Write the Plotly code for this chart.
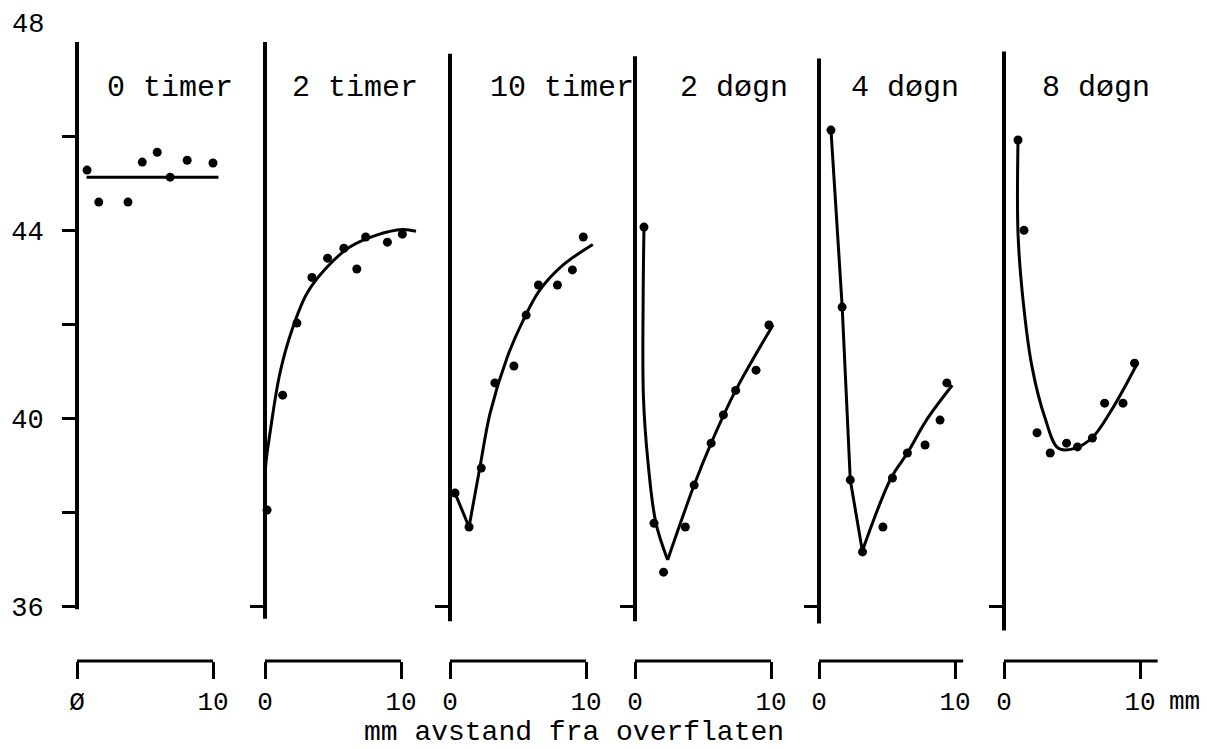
import plotly.graph_objects as go

# ---------------- data ----------------
panel_titles = ["0 timer", "2 timer", "10 timer", "2 døgn", "4 døgn", "8 døgn"]

# measured points: x = mm from surface, y = value
p1_x = [0.74, 1.6, 3.75, 4.8, 5.9, 6.85, 8.1, 10.0]
p1_y = [45.28, 44.6, 44.6, 45.45, 45.66, 45.13, 45.49, 45.43]
p2_x = [0.15, 1.3, 2.35, 3.45, 4.6, 5.8, 6.75, 7.4, 9.0, 10.1]
p2_y = [38.06, 40.5, 42.03, 43.0, 43.41, 43.62, 43.18, 43.86, 43.75, 43.92]
p3_x = [0.37, 1.4, 2.3, 3.3, 4.7, 5.6, 6.5, 7.9, 9.0, 9.8]
p3_y = [38.42, 37.7, 38.95, 40.76, 41.12, 42.2, 42.84, 42.84, 43.16, 43.86]
p4_x = [0.66, 1.4, 2.1, 3.7, 4.35, 5.6, 6.5, 7.4, 8.9, 9.85]
p4_y = [44.07, 37.78, 36.74, 37.7, 38.59, 39.48, 40.08, 40.6, 41.03, 41.99]
p5_x = [0.88, 1.7, 2.3, 3.2, 4.7, 5.4, 6.5, 7.8, 8.9, 9.4]
p5_y = [46.13, 42.37, 38.7, 37.17, 37.7, 38.74, 39.27, 39.44, 39.97, 40.76]
p6_x = [1.03, 1.47, 2.43, 3.4, 4.6, 5.4, 6.5, 7.4, 8.75, 9.6]
p6_y = [45.92, 44.0, 39.7, 39.27, 39.48, 39.4, 39.59, 40.33, 40.33, 41.18]

# hand-drawn fitted curves
c1_x = [0.7, 10.4]
c1_y = [45.13, 45.13]
c2_x = [0.0, 0.05, 0.37, 1.1, 2.0, 3.1, 4.5, 6.2, 8.2, 10.1, 11.1]
c2_y = [38.3, 39.0, 39.7, 40.97, 41.9, 42.67, 43.2, 43.64, 43.9, 44.02, 43.98]
c3a_x = [0.37, 1.4]
c3a_y = [38.42, 37.7]
c3b_x = [1.4, 2.2, 2.95, 4.2, 5.4, 6.6, 8.3, 10.5]
c3b_y = [37.7, 38.97, 40.12, 41.3, 42.1, 42.73, 43.26, 43.7]
c4a_x = [0.66, 0.6, 0.62, 0.96, 1.54, 2.4]
c4a_y = [44.07, 42.58, 40.46, 39.06, 37.78, 37.0]
c4b_x = [2.4, 4.35, 5.6, 7.4, 10.15]
c4b_y = [37.0, 38.59, 39.48, 40.6, 41.99]
c5a_x = [0.88, 1.7, 2.3, 3.2]
c5a_y = [46.13, 42.4, 38.7, 37.17]
c5b_x = [3.2, 5.3, 6.5, 7.9, 9.8]
c5b_y = [37.2, 38.74, 39.27, 39.97, 40.71]
c6_x = [1.03, 1.03, 1.4, 2.06, 3.0, 4.0, 5.2, 6.5, 7.9, 9.85]
c6_y = [45.92, 43.94, 42.52, 41.1, 40.03, 39.37, 39.37, 39.6, 40.18, 41.2]

points = [(p1_x, p1_y), (p2_x, p2_y), (p3_x, p3_y), (p4_x, p4_y), (p5_x, p5_y), (p6_x, p6_y)]
curves = [
    [(c1_x, c1_y, "linear")],
    [(c2_x, c2_y, "spline")],
    [(c3a_x, c3a_y, "linear"), (c3b_x, c3b_y, "spline")],
    [(c4a_x, c4a_y, "spline"), (c4b_x, c4b_y, "spline")],
    [(c5a_x, c5a_y, "linear"), (c5b_x, c5b_y, "spline")],
    [(c6_x, c6_y, "spline")],
]

y_tickvals_first = [36, 38, 40, 42, 44, 46]
y_ticktext_first = ["36", "", "40", "", "44", ""]
x_ticktexts = [["Ø", "10"], ["0", "10"], ["0", "10"], ["0", "10"], ["0", "10"], ["0", "10"]]
axis_line_top = [48.0, 48.0, 47.75, 47.7, 47.65, 47.8]
axis_line_bottom = [35.95, 35.75, 35.7, 35.7, 35.65, 35.5]
bar_end = [10, 10, 10, 10, 10.6, 11.3]

# ---------------- layout geometry ----------------
W, H = 1207, 749
PX_PER_MM = 13.6
PX_PER_UNIT = 47.08
Y36_PX = 607
Y_RANGE = [35.3, 48.3]
panel_line_px = [77, 265, 450, 635, 819, 1004]
title_center_px = [170, 355, 562, 734, 905, 1096]
XBAR_PX = 661
FONT = "Liberation Mono"


def ypx(v):
    return Y36_PX - (v - 36) * PX_PER_UNIT


y_domain = [1 - ypx(Y_RANGE[0]) / H, 1 - ypx(Y_RANGE[1]) / H]

fig = go.Figure()
layout = dict(
    width=W, height=H,
    margin=dict(l=0, r=0, t=0, b=0),
    paper_bgcolor="white", plot_bgcolor="rgba(0,0,0,0)",
    showlegend=False,
    font=dict(family=FONT, color="black"),
)
shapes = []
annotations = []

for i in range(6):
    n = "" if i == 0 else str(i + 1)
    L = panel_line_px[i]
    left, right = L - 10, L + 172
    layout["xaxis" + n] = dict(
        domain=[left / W, right / W],
        range=[-10 / PX_PER_MM, 172 / PX_PER_MM],
        anchor="free", position=1 - XBAR_PX / H,
        showgrid=False, zeroline=False, showline=False,
        ticks="outside", ticklen=17, tickwidth=3, tickcolor="black",
        tickvals=[0, 10], ticktext=x_ticktexts[i],
        tickfont=dict(family=FONT, size=26, color="black"),
        ticklabelstandoff=0,
        fixedrange=True,
    )
    ya = dict(
        domain=y_domain, range=Y_RANGE,
        anchor="free", position=L / W,
        showgrid=False, zeroline=False, showline=False,
        ticks="outside", ticklen=15, tickwidth=3, tickcolor="black",
        fixedrange=True,
    )
    if i == 0:
        ya.update(tickvals=y_tickvals_first, ticktext=y_ticktext_first,
                  tickfont=dict(family=FONT, size=27, color="black"),
                  ticklabelstandoff=13)
    else:
        ya.update(tickvals=[36], ticktext=[""], showticklabels=False)
    layout["yaxis" + n] = ya

    # vertical axis line
    shapes.append(dict(type="line", xref="x" + n, yref="y" + n,
                       x0=0, x1=0, y0=axis_line_bottom[i], y1=axis_line_top[i],
                       line=dict(color="black", width=4)))
    # horizontal mm bar
    shapes.append(dict(type="line", xref="x" + n, yref="paper",
                       x0=0, x1=bar_end[i], y0=1 - XBAR_PX / H, y1=1 - XBAR_PX / H,
                       line=dict(color="black", width=3)))

    for cx, cy, shp in curves[i]:
        fig.add_trace(go.Scatter(
            x=cx, y=cy, mode="lines", xaxis="x" + n, yaxis="y" + n,
            line=dict(color="black", width=3, shape=shp, smoothing=1.0),
            hoverinfo="skip"))
    px_, py_ = points[i]
    fig.add_trace(go.Scatter(
        x=px_, y=py_, mode="markers", xaxis="x" + n, yaxis="y" + n,
        marker=dict(color="black", size=9, symbol="circle"),
        cliponaxis=False))

    annotations.append(dict(text=panel_titles[i], xref="paper", yref="paper",
                            x=title_center_px[i] / W, y=1 - 88 / H,
                            showarrow=False, xanchor="center", yanchor="middle",
                            font=dict(family=FONT, size=30, color="black")))

# "48" label at top of first axis
annotations.append(dict(text="48", xref="paper", yref="paper", x=28 / W, y=1 - 25 / H,
                        showarrow=False, xanchor="center", yanchor="middle",
                        font=dict(family=FONT, size=27, color="black")))
# unit label
annotations.append(dict(text="mm", xref="paper", yref="paper", x=1184 / W, y=1 - 702 / H,
                        showarrow=False, xanchor="center", yanchor="middle",
                        font=dict(family=FONT, size=26, color="black")))
# axis title
annotations.append(dict(text="mm avstand fra overflaten", xref="paper", yref="paper",
                        x=574 / W, y=1 - 732 / H,
                        showarrow=False, xanchor="center", yanchor="middle",
                        font=dict(family=FONT, size=28, color="black")))

layout["shapes"] = shapes
layout["annotations"] = annotations
fig.update_layout(**layout)
fig.write_html("out.html")
